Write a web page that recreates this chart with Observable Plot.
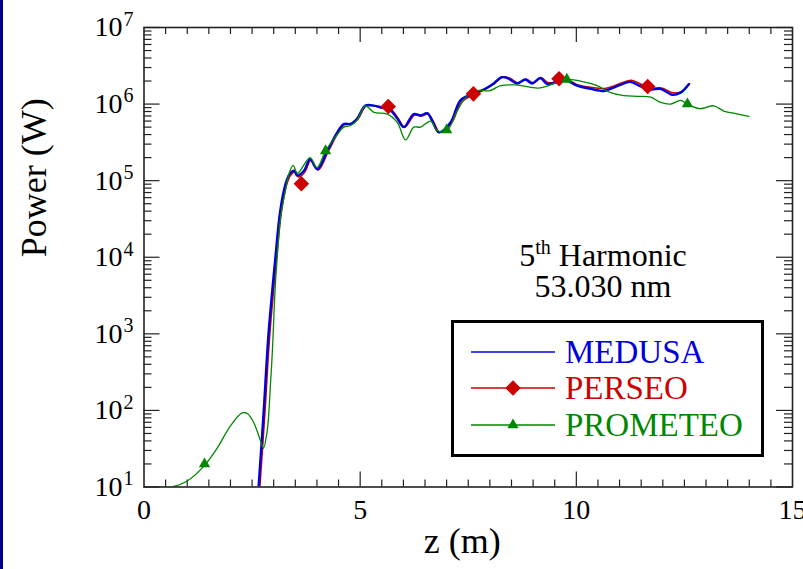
<!DOCTYPE html>
<html><head><meta charset="utf-8">
<script src="https://cdn.jsdelivr.net/npm/d3@7"></script>
<script src="https://cdn.jsdelivr.net/npm/@observablehq/plot@0.6"></script>
<style>
html,body{margin:0;padding:0;background:#fff;}
#wrap{position:relative;width:803px;height:569px;overflow:hidden;background:#fff;font-family:'Liberation Serif','Times New Roman',serif;}
#bar{position:absolute;left:0;top:0;width:3px;height:569px;background:#00008b;}
#legend{position:absolute;left:451px;top:320px;width:313px;height:137px;box-sizing:border-box;border:3px solid #000;background:#fff;}
#note{position:absolute;left:483px;top:240px;width:240px;text-align:center;font-size:32px;line-height:31px;color:#000;}
#note sup{font-size:20px;line-height:0;vertical-align:12px;}
</style></head>
<body><div id="wrap"></div>
<script>
// ---------- data ----------
const medusaZ = [2.65,2.77,2.88,3.04,3.15,3.27,3.36,3.47,3.54,3.70,3.84,4.01,4.24,4.47,4.62,4.78,4.93,5.12,5.32,5.47,5.70,5.86,6.01,6.24,6.40,6.55,6.67,6.82,7.09,7.32,7.59,7.86,8.09,8.27,8.44,8.63,8.82,8.98,9.17,9.33,9.56,9.79,10.02,10.33,10.64,10.79,11.02,11.25,11.49,11.72,11.95,12.22,12.41,12.60];
const medusaP = [10,100,1000,1e4,4.0e4,8.9e4,1.2e5,1.35e5,1.17e5,1.35e5,1.9e5,1.41e5,2.45e5,4.27e5,5.5e5,5.5e5,6.46e5,9.55e5,9.55e5,9.1e5,8.3e5,6.46e5,5.0e5,7.4e5,7.1e5,7.6e5,6.0e5,4.27e5,5.75e5,1.12e6,1.35e6,1.55e6,1.86e6,2.24e6,2.14e6,1.86e6,2.09e6,1.86e6,2.19e6,1.82e6,1.95e6,2.0e6,1.74e6,1.58e6,1.48e6,1.58e6,1.78e6,1.95e6,1.7e6,1.55e6,1.58e6,1.32e6,1.41e6,1.82e6];

const perseoZ = [2.68,2.80,2.91,3.07,3.18,3.30,3.39,3.49,3.57,3.72,3.86,4.03,4.26,4.49,4.64,4.80,4.95,5.14,5.34,5.50,5.72,5.88,6.03,6.26,6.42,6.57,6.69,6.84,7.11,7.34,7.61,7.88,8.11,8.29,8.46,8.65,8.84,9.00,9.19,9.35,9.58,9.81,10.04,10.35,10.66,10.81,11.04,11.27,11.51,11.74,11.97,12.24,12.43,12.62];
const perseoP = [10,100,1000,1e4,4.0e4,8.9e4,1.18e5,1.3e5,1.12e5,1.3e5,1.85e5,1.38e5,2.4e5,4.2e5,5.4e5,5.5e5,6.4e5,9.5e5,9.4e5,8.9e5,8.4e5,6.5e5,5.0e5,7.2e5,7.0e5,7.4e5,6.0e5,4.3e5,5.6e5,1.05e6,1.32e6,1.55e6,1.86e6,2.26e6,2.18e6,1.9e6,2.1e6,1.9e6,2.2e6,1.9e6,2.0e6,2.05e6,1.78e6,1.65e6,1.6e6,1.68e6,1.88e6,2.05e6,1.8e6,1.62e6,1.62e6,1.4e6,1.45e6,1.85e6];
const perseoMarkZ = [3.64,5.65,7.62,9.60,11.65];
const perseoMarkP = [9.1e4,9.3e5,1.36e6,2.14e6,1.7e6];

const prometeoZ = [0,0.38,0.69,1.0,1.38,1.69,2.0,2.27,2.39,2.54,2.73,2.76,2.85,2.93,2.97,3.04,3.16,3.27,3.36,3.45,3.55,3.84,4.0,4.2,4.47,4.62,4.78,4.93,5.12,5.32,5.63,5.86,6.05,6.24,6.40,6.63,6.78,7.01,7.24,7.48,7.70,8.0,8.25,8.6,9.13,9.45,9.79,10.17,10.48,10.79,11.1,11.41,11.72,11.95,12.18,12.41,12.57,12.87,13.18,13.41,13.64,13.99];
const prometeoP = [10,10,10.2,12,18.6,32,63,93,91,69,35,32,54,245,600,4500,3.3e4,7.4e4,1.26e5,1.58e5,1.25e5,2.0e5,1.48e5,2.45e5,4.0e5,5.0e5,5.25e5,6.2e5,9.5e5,7.8e5,7.4e5,5.75e5,3.4e5,5.0e5,5.0e5,6.0e5,4.5e5,4.5e5,8.1e5,1.29e6,1.5e6,1.5e6,1.74e6,1.78e6,1.62e6,1.82e6,2.1e6,1.95e6,1.74e6,1.41e6,1.29e6,1.26e6,1.23e6,1.05e6,1.0e6,1.12e6,1.0e6,8.7e5,9.5e5,8.1e5,7.6e5,6.9e5];
const prometeoMarkZ = [1.40,4.20,7.00,9.78,12.57];
const prometeoMarkP = [20,2.45e5,4.6e5,2.1e6,1.0e6];

const xTicks = [0,5,10,15];
const yTicks = [1e1,1e2,1e3,1e4,1e5,1e6,1e7];
const seriesNames = ["MEDUSA","PERSEO","PROMETEO"];
const seriesColors = ["#0000dd","#cc0000","#008800"];
const seriesSymbols = [null,"diamond2","triangle"];
const xLabel = "z (m)";
const yLabel = "Power (W)";

// ---------- build ----------
const zip = (Z,P) => Z.map((z,i)=>({z, p:P[i]}));
const medusa = zip(medusaZ, medusaP);
const perseo = zip(perseoZ, perseoP);
const perseoM = zip(perseoMarkZ, perseoMarkP);
const prometeo = zip(prometeoZ, prometeoP);
const prometeoM = zip(prometeoMarkZ, prometeoMarkP);

const W = 803, H = 569, mL = 143.5, mR = 11, mT = 27, mB = 82.5;
const innerH = H - mT - mB, innerW = W - mL - mR;
const xMinor = d3.range(0.5, 15, 0.5).filter(v => v % 5 !== 0);
const xMajor = [5,10];
const yMinor = [];
for (let e = 1; e < 7; e++) for (let k = 2; k <= 9; k++) yMinor.push(k * 10 ** e);
const yMajor = yTicks;
const axisColor = "#222";

const chart = Plot.plot({
  width: W, height: H,
  marginLeft: mL, marginRight: mR, marginTop: mT, marginBottom: mB,
  x: {domain: [0, 15], axis: null},
  y: {type: "log", domain: [10, 1e7], axis: null},
  style: {fontFamily: "'Liberation Serif','Times New Roman',serif", background: "#fff", color: "#000", overflow: "visible"},
  marks: [
    // ticks (inward on all four sides)
    Plot.tickX(xMinor, {x: d => d, insetTop: innerH - 7, stroke: axisColor, strokeWidth: 1.2}),
    Plot.tickX(xMinor, {x: d => d, insetBottom: innerH - 7, stroke: axisColor, strokeWidth: 1.2}),
    Plot.tickX(xMajor, {x: d => d, insetTop: innerH - 15, stroke: axisColor, strokeWidth: 1.2}),
    Plot.tickX(xMajor, {x: d => d, insetBottom: innerH - 15, stroke: axisColor, strokeWidth: 1.2}),
    Plot.tickY(yMinor, {y: d => d, insetRight: innerW - 8, stroke: axisColor, strokeWidth: 1.2}),
    Plot.tickY(yMinor, {y: d => d, insetLeft: innerW - 8, stroke: axisColor, strokeWidth: 1.2}),
    Plot.tickY(yMajor, {y: d => d, insetRight: innerW - 16, stroke: axisColor, strokeWidth: 1.2}),
    Plot.tickY(yMajor, {y: d => d, insetLeft: innerW - 16, stroke: axisColor, strokeWidth: 1.2}),
    // data
    Plot.line(perseo, {x: "z", y: "p", stroke: seriesColors[1], strokeWidth: 1.6, curve: "catmull-rom", clip: true}),
    Plot.line(medusa, {x: "z", y: "p", stroke: seriesColors[0], strokeWidth: 2.4, curve: "catmull-rom", clip: true}),
    Plot.line(prometeo, {x: "z", y: "p", stroke: seriesColors[2], strokeWidth: 1.3, curve: "catmull-rom", clip: true}),
    Plot.dot(perseoM, {x: "z", y: "p", symbol: "diamond2", r: 7, fill: seriesColors[1], stroke: "none"}),
    Plot.dot(prometeoM, {x: "z", y: "p", symbol: "triangle", r: 4.2, fill: seriesColors[2], stroke: "none"}),
    Plot.frame({stroke: axisColor, strokeWidth: 1.6}),
    // tick labels
    Plot.text(xTicks, {x: d => d, frameAnchor: "bottom", text: d => String(d), lineAnchor: "top", dy: 12, fontSize: 28, fill: "#000"}),
    Plot.text(yTicks, {y: d => d, frameAnchor: "left", text: () => "10", textAnchor: "end", dx: -21.5, fontSize: 28, fill: "#000"}),
    Plot.text(yTicks, {y: d => d, frameAnchor: "left", text: d => String(Math.round(Math.log10(d))), textAnchor: "start", dx: -20.5, dy: -8, fontSize: 20, fill: "#000"}),
    // axis titles
    Plot.text([xLabel], {frameAnchor: "bottom", text: d => d, dx: -6, dy: 66, fontSize: 36, fill: "#000"}),
    Plot.text([yLabel], {frameAnchor: "left", text: d => d, rotate: -90, dx: -110, fontSize: 36, fill: "#000"})
  ]
});

const wrap = document.getElementById("wrap");
wrap.appendChild(chart);

// annotation
const note = document.createElement("div");
note.id = "note";
note.innerHTML = "5<sup>th</sup> Harmonic<br>53.030 nm";
wrap.appendChild(note);

// legend
const leg = document.createElement("div");
leg.id = "legend";
wrap.appendChild(leg);
const lsvg = d3.select(leg).append("svg").attr("width", 307).attr("height", 131)
  .style("position", "absolute").style("left", "0px").style("top", "0px");
const rowY = [29, 65, 102];
seriesNames.forEach((name, i) => {
  const g = lsvg.append("g").attr("transform", `translate(0,${rowY[i]})`);
  g.append("line").attr("x1", 17).attr("x2", 101).attr("y1", 0).attr("y2", 0)
    .attr("stroke", seriesColors[i]).attr("stroke-width", 1.3);
  if (seriesSymbols[i]) {
    const sym = seriesSymbols[i] === "diamond2" ? d3.symbolDiamond2 : d3.symbolTriangle;
    const size = seriesSymbols[i] === "diamond2" ? 150 : 55;
    g.append("path").attr("d", d3.symbol(sym, size)()).attr("transform", "translate(59,0)")
      .attr("fill", seriesColors[i]);
  }
  g.append("text").attr("x", 111).attr("y", 11).text(name)
    .attr("font-size", 33).attr("fill", seriesColors[i])
    .attr("font-family", "'Liberation Serif','Times New Roman',serif");
});

// left edge bar
const bar = document.createElement("div");
bar.id = "bar";
wrap.appendChild(bar);
</script>
</body></html>
